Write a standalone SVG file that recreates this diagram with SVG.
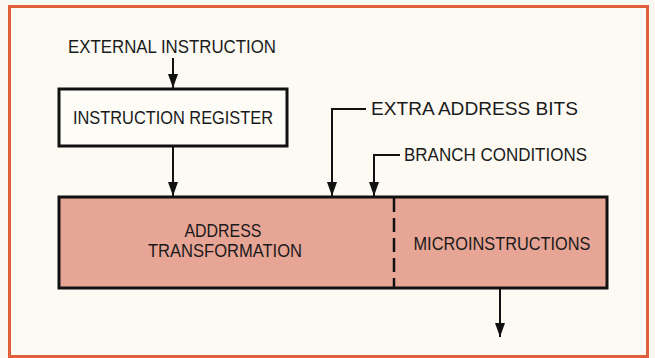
<svg xmlns="http://www.w3.org/2000/svg" width="655" height="358" viewBox="0 0 655 358">
<defs>
<marker id="ah" viewBox="0 0 14 10" refX="14" refY="5" markerWidth="14" markerHeight="10" markerUnits="userSpaceOnUse" orient="auto">
<path d="M0,0 L14,5 L0,10 Z" fill="#111"/>
</marker>
</defs>
<style>
text{font-family:"Liberation Sans Narrow","Liberation Sans",Arial,sans-serif;font-size:18px;fill:#1a1a1a;text-anchor:middle}
.l{text-anchor:start}
.box{stroke:#111;stroke-width:3}
.c{stroke:#111;stroke-width:2;fill:none}
</style>
<rect x="0" y="0" width="655" height="358" fill="#fbf8f1"/>
<rect x="9.5" y="6.5" width="638" height="350" fill="#fcfaf3" stroke="#e0603c" stroke-width="3"/>
<g id="external-instruction">
<text x="172" y="53" textLength="208" lengthAdjust="spacingAndGlyphs">EXTERNAL INSTRUCTION</text>
</g>
<g id="instruction-register">
<rect class="box" x="59" y="89" width="228" height="57" fill="#fdfcf7"/>
<text x="173" y="124" textLength="200" lengthAdjust="spacingAndGlyphs">INSTRUCTION REGISTER</text>
</g>
<g id="address-transformation">
<rect class="box" x="59" y="197" width="548" height="91" fill="#e7a596"/>
<line x1="394" y1="198" x2="394" y2="287" stroke="#111" stroke-width="2.5" stroke-dasharray="14,6"/>
<text x="223" y="237" textLength="77" lengthAdjust="spacingAndGlyphs">ADDRESS</text>
<text x="225" y="257" textLength="154" lengthAdjust="spacingAndGlyphs">TRANSFORMATION</text>
</g>
<g id="microinstructions">
<text x="502" y="250" textLength="177" lengthAdjust="spacingAndGlyphs">MICROINSTRUCTIONS</text>
</g>
<g id="extra-address-bits">
<text class="l" x="371" y="115" textLength="207" lengthAdjust="spacingAndGlyphs">EXTRA ADDRESS BITS</text>
</g>
<g id="branch-conditions">
<text class="l" x="404" y="161" textLength="183" lengthAdjust="spacingAndGlyphs">BRANCH CONDITIONS</text>
</g>
<g id="connectors">
<line class="c" x1="173" y1="58" x2="173" y2="88" marker-end="url(#ah)"/>
<line class="c" x1="173" y1="147" x2="173" y2="196" marker-end="url(#ah)"/>
<polyline class="c" points="366,109 332,109 332,196" marker-end="url(#ah)"/>
<polyline class="c" points="400,155 374,155 374,196" marker-end="url(#ah)"/>
<line class="c" x1="500" y1="289" x2="500" y2="337" marker-end="url(#ah)"/>
</g>
</svg>
